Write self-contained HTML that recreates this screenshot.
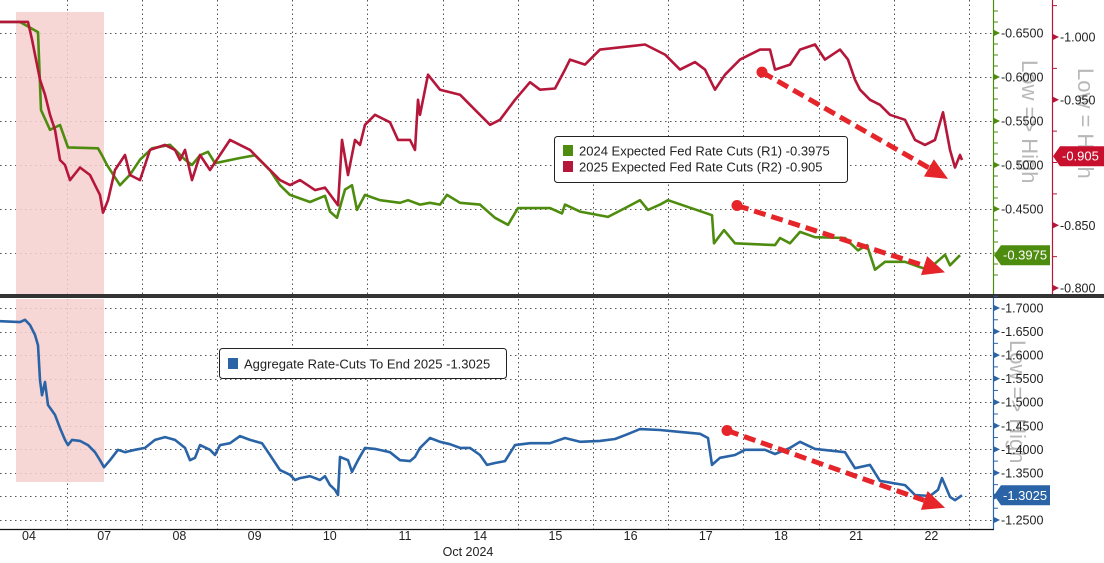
<!DOCTYPE html>
<html><head><meta charset="utf-8">
<style>
html,body{margin:0;padding:0;background:#fff;}
svg{display:block;font-family:"Liberation Sans","DejaVu Sans",sans-serif;}
</style></head>
<body>
<svg id="chart" width="1104" height="563" viewBox="0 0 1104 563" xmlns="http://www.w3.org/2000/svg">
<rect x="0" y="0" width="1104" height="563" fill="#fff"/>
<g id="grid"></g>
<rect x="16" y="12" width="88" height="283" fill="#f6cfcf" opacity="0.85"/>
<rect x="16" y="299" width="88" height="183" fill="#f6cfcf" opacity="0.85"/>
<text transform="translate(1022,60) rotate(90)" font-size="22" fill="#b8b8b8">Low =&gt; High</text>
<text transform="translate(1078,68) rotate(90)" font-size="22" fill="#b8b8b8">Low = High</text>
<text transform="translate(1010,340) rotate(90)" font-size="22" fill="#b8b8b8">Low =&gt; High</text>
<g id="series"></g>
<g id="axes"></g>
<g id="arrows"></g>
<g>
 <rect x="554.5" y="136.5" width="293" height="46" rx="3" fill="#fff" stroke="#222" stroke-width="1"/>
 <rect x="563" y="145" width="10" height="11" fill="#4e8c0f"/>
 <text x="579" y="155.5" font-size="13" fill="#222">2024 Expected Fed Rate Cuts (R1) -0.3975</text>
 <rect x="563" y="161" width="10" height="11" fill="#b5173a"/>
 <text x="579" y="171.5" font-size="13" fill="#222">2025 Expected Fed Rate Cuts (R2) -0.905</text>
</g>
<g>
 <rect x="219.5" y="348.5" width="287" height="30" rx="3" fill="#fff" stroke="#222" stroke-width="1"/>
 <rect x="228" y="358" width="10" height="11" fill="#2a64a6"/>
 <text x="244" y="368.5" font-size="13" fill="#222">Aggregate Rate-Cuts To End 2025 -1.3025</text>
</g>
<text x="468" y="556" font-size="12.5" fill="#222" text-anchor="middle">Oct 2024</text>
</svg>
<script>
// ---- data ----
const dayLabels = ["04","07","08","09","10","11","14","15","16","17","18","21","22"];
const r1Ticks = [-0.65,-0.60,-0.55,-0.50,-0.45];
const r2Ticks = [-1.000,-0.950,-0.850,-0.800];
const aggTicks = [-1.70,-1.65,-1.60,-1.55,-1.50,-1.45,-1.40,-1.35,-1.30,-1.25];
const r1T = [-0.386,-0.120,0.120,0.160,0.279,0.412,0.519,0.918,0.971,1.037,1.210,1.343,1.476,1.636,1.875,2.074,2.168,2.274,2.380,2.473,2.806,3.005,3.205,3.338,3.471,3.737,3.936,4.003,4.096,4.202,4.295,4.362,4.468,4.668,4.934,5.040,5.199,5.332,5.465,5.559,5.731,5.997,6.197,6.370,6.503,6.928,7.088,7.128,7.327,7.699,7.926,8.125,8.231,8.391,8.497,9.082,9.109,9.242,9.388,9.920,9.987,10.120,10.253,10.452,10.851,11.024,11.144,11.250,11.383,11.649,11.848,11.955,12.181,12.247,12.380];
const r1V = [-0.6625,-0.6625,-0.651,-0.5625,-0.540,-0.5455,-0.520,-0.519,-0.511,-0.500,-0.477,-0.489,-0.506,-0.519,-0.523,-0.506,-0.500,-0.511,-0.515,-0.502,-0.508,-0.511,-0.494,-0.477,-0.466,-0.458,-0.465,-0.447,-0.440,-0.472,-0.477,-0.449,-0.466,-0.460,-0.457,-0.460,-0.455,-0.457,-0.455,-0.466,-0.457,-0.455,-0.440,-0.432,-0.451,-0.451,-0.445,-0.455,-0.447,-0.441,-0.451,-0.460,-0.449,-0.455,-0.460,-0.443,-0.411,-0.426,-0.411,-0.409,-0.417,-0.411,-0.424,-0.418,-0.417,-0.403,-0.409,-0.381,-0.390,-0.390,-0.384,-0.381,-0.398,-0.386,-0.3975];
const r2T = [-0.386,-0.013,0.040,0.080,0.146,0.213,0.279,0.346,0.412,0.479,0.545,0.678,0.811,0.878,0.944,0.984,1.051,1.144,1.277,1.343,1.476,1.609,1.809,1.941,2.008,2.074,2.168,2.274,2.407,2.673,2.806,2.939,3.072,3.205,3.338,3.471,3.604,3.803,3.936,4.109,4.162,4.242,4.335,4.402,4.468,4.601,4.801,4.907,5.066,5.133,5.173,5.199,5.306,5.465,5.731,5.931,6.130,6.263,6.463,6.662,6.795,6.995,7.128,7.194,7.394,7.593,8.191,8.457,8.657,8.856,8.989,9.122,9.255,9.455,9.721,9.854,9.920,10.120,10.253,10.452,10.585,10.785,10.891,10.984,11.051,11.184,11.316,11.449,11.649,11.782,11.915,12.048,12.154,12.247,12.314,12.380,12.407];
const r2V = [-1.012,-1.012,-0.998,-0.986,-0.966,-0.954,-0.938,-0.926,-0.902,-0.898,-0.886,-0.896,-0.890,-0.882,-0.874,-0.860,-0.870,-0.894,-0.906,-0.890,-0.886,-0.910,-0.914,-0.910,-0.902,-0.910,-0.886,-0.906,-0.894,-0.918,-0.914,-0.910,-0.902,-0.894,-0.886,-0.882,-0.886,-0.878,-0.880,-0.866,-0.918,-0.890,-0.918,-0.914,-0.930,-0.938,-0.932,-0.918,-0.918,-0.910,-0.950,-0.938,-0.970,-0.958,-0.954,-0.942,-0.930,-0.934,-0.950,-0.964,-0.958,-0.959,-0.974,-0.982,-0.978,-0.990,-0.994,-0.986,-0.974,-0.980,-0.974,-0.958,-0.970,-0.982,-0.990,-0.990,-0.974,-0.978,-0.990,-0.994,-0.982,-0.990,-0.982,-0.966,-0.958,-0.950,-0.946,-0.938,-0.934,-0.918,-0.914,-0.918,-0.940,-0.910,-0.896,-0.906,-0.902];
const aggT = [-0.386,-0.120,-0.053,0.013,0.080,0.120,0.146,0.173,0.213,0.253,0.346,0.412,0.479,0.519,0.572,0.678,0.785,0.878,0.944,0.997,1.077,1.184,1.277,1.410,1.543,1.676,1.809,1.941,2.074,2.141,2.207,2.274,2.407,2.473,2.540,2.673,2.806,2.939,3.098,3.205,3.338,3.471,3.537,3.604,3.737,3.870,3.936,4.003,4.069,4.109,4.136,4.242,4.295,4.375,4.468,4.601,4.801,4.934,5.066,5.133,5.199,5.332,5.465,5.598,5.731,5.864,5.997,6.090,6.197,6.330,6.463,6.662,6.928,7.128,7.327,7.593,7.793,7.926,8.125,8.391,8.657,8.923,9.029,9.082,9.189,9.388,9.521,9.787,9.920,10.120,10.253,10.452,10.851,10.984,11.184,11.316,11.649,11.782,11.981,12.088,12.141,12.247,12.314,12.407];
const aggV = [-1.672,-1.670,-1.675,-1.664,-1.643,-1.621,-1.547,-1.515,-1.543,-1.494,-1.473,-1.445,-1.420,-1.409,-1.420,-1.418,-1.409,-1.394,-1.377,-1.362,-1.377,-1.399,-1.394,-1.399,-1.403,-1.420,-1.426,-1.420,-1.403,-1.377,-1.382,-1.409,-1.399,-1.388,-1.409,-1.413,-1.428,-1.420,-1.413,-1.388,-1.356,-1.346,-1.335,-1.339,-1.343,-1.335,-1.343,-1.324,-1.314,-1.303,-1.384,-1.377,-1.352,-1.377,-1.403,-1.401,-1.394,-1.377,-1.375,-1.384,-1.403,-1.424,-1.416,-1.411,-1.403,-1.403,-1.388,-1.367,-1.371,-1.375,-1.409,-1.413,-1.413,-1.424,-1.416,-1.418,-1.422,-1.430,-1.443,-1.441,-1.437,-1.433,-1.424,-1.367,-1.382,-1.388,-1.399,-1.399,-1.390,-1.403,-1.416,-1.401,-1.394,-1.360,-1.367,-1.333,-1.324,-1.303,-1.301,-1.314,-1.339,-1.299,-1.292,-1.3025];
const r1Last = -0.3975, r2Last = -0.905, aggLast = -1.3025;
// arrows in data coords: [startDay, startValue, endDay, endValue]
const arrowR2 = [9.747, -0.972, 12.221, -0.887];
const arrowR1 = [9.415, -0.454, 12.181, -0.378];
const arrowAgg = [9.282, -1.440, 12.181, -1.276];

// ---- scales ----
const NS = "http://www.w3.org/2000/svg";
const X = d => 29 + d * 75.2;
const yR1 = v => 33 + (v + 0.65) / 0.05 * 44;
const yR2 = v => 37 + (v + 1.0) / 0.2 * 251;
const yAgg = v => 308 + (v + 1.70) / 0.45 * 212;
function mk(tag, attrs, parent){const e=document.createElementNS(NS,tag);for(const k in attrs)e.setAttribute(k,attrs[k]);parent.appendChild(e);return e;}
const grid=document.getElementById('grid'), series=document.getElementById('series'), axes=document.getElementById('axes'), arrows=document.getElementById('arrows');

// grid
for(let i=0;i<dayLabels.length;i++){
  const gx = Math.round(X(i+0.5))+0.5;
  const l1=mk('line',{x1:gx,y1:0,x2:gx,y2:294,stroke:'#555','stroke-width':1,'stroke-dasharray':'1.5,3'},grid);
  
  
  const l2=mk('line',{x1:gx,y1:299,x2:gx,y2:529,stroke:'#555','stroke-width':1,'stroke-dasharray':'1.5,3'},grid);
  
  
  const t=mk('text',{x:X(i),y:540,'font-size':12.5,fill:'#222','text-anchor':'middle'},axes);
  t.textContent=dayLabels[i];
  
  
}
const r1Grid=[...r1Ticks,-0.40];
r1Grid.forEach(v=>{const y=Math.round(yR1(v))+0.5;
  const l=mk('line',{x1:0,y1:y,x2:993,y2:y,stroke:'#555','stroke-width':1,'stroke-dasharray':'1.5,3.5'},grid);
  
  });
aggTicks.forEach(v=>{const y=Math.round(yAgg(v))+0.5;
  const l=mk('line',{x1:0,y1:y,x2:993,y2:y,stroke:'#555','stroke-width':1,'stroke-dasharray':'1.5,3.5'},grid);
  
  });

// series
function pathOf(T,V,ys){return T.map((t,i)=>(i?'L':'M')+X(t).toFixed(1)+','+ys(V[i]).toFixed(1)).join('');}
const pg=mk('path',{d:pathOf(r1T,r1V,yR1),fill:'none',stroke:'#4e8c0f','stroke-width':2.6,'stroke-linejoin':'round'},series);


const pr=mk('path',{d:pathOf(r2T,r2V,yR2),fill:'none',stroke:'#b5173a','stroke-width':2.6,'stroke-linejoin':'round'},series);


const pb=mk('path',{d:pathOf(aggT,aggV,yAgg),fill:'none',stroke:'#2a64a6','stroke-width':2.6,'stroke-linejoin':'round'},series);



// axes frame
const dv=mk('rect',{x:0,y:294,width:1104,height:4,fill:'#333'},axes);


const bx=mk('line',{x1:0,y1:529.5,x2:994,y2:529.5,stroke:'#111','stroke-width':1.2},axes);


const a1=mk('line',{x1:993.5,y1:0,x2:993.5,y2:294,stroke:'#4e8c0f','stroke-width':1.2},axes);


const a2=mk('line',{x1:1052.5,y1:0,x2:1052.5,y2:294,stroke:'#b5173a','stroke-width':1.2},axes);


const a3=mk('line',{x1:993.5,y1:298,x2:993.5,y2:529,stroke:'#2a64a6','stroke-width':1.2},axes);



function ticks(list,ys,ax,col,fmt,name,minorStep,lo,hi){
  for(let v=lo; v<=hi+1e-9; v+=minorStep){const y=ys(v); if(y<2||y>528)continue;
    const m=mk('line',{x1:ax,y1:y,x2:ax+4,y2:y,stroke:col,'stroke-width':1},axes);
    
    }
  list.forEach(v=>{const y=ys(v);
    const p=mk('path',{d:`M${ax},${y-3}L${ax+6},${y}L${ax},${y+3}Z`,fill:col},axes);
    
    
    const t=mk('text',{x:ax+7,y:y+4.5,'font-size':12.5,fill:'#222'},axes);
    t.textContent=fmt(v);
    
    });
}
ticks(r1Ticks,yR1,994,'#4e8c0f',v=>v.toFixed(4),'r1',0.0125,-0.675,-0.375);
ticks(r2Ticks,yR2,1053,'#b5173a',v=>v.toFixed(3),'r2',0.025,-1.025,-0.8);
ticks(aggTicks,yAgg,994,'#2a64a6',v=>v.toFixed(4),'agg',0.025,-1.725,-1.25);

function lastBadge(x,y,w,col,txt,name){
  const p=mk('path',{d:`M${x},${y}L${x+7},${y-10}L${x+w},${y-10}L${x+w},${y+10}L${x+7},${y+10}Z`,fill:col},axes);
  
  
  const t=mk('text',{x:x+9,y:y+4.5,'font-size':13,fill:'#fff'},axes);
  t.textContent=txt;
  
  
}
lastBadge(994,yR1(r1Last),56,'#4e8c0f',r1Last.toFixed(4),'r1-last');
lastBadge(1053,yR2(r2Last),51,'#c8102e',r2Last.toFixed(3),'r2-last');
lastBadge(994,yAgg(aggLast),56,'#2a64a6',aggLast.toFixed(4),'agg-last');

// arrows
function arrow(a,ys,name){
  const x1=X(a[0]),y1=ys(a[1]),x2=X(a[2]),y2=ys(a[3]);
  const dx=x2-x1,dy=y2-y1,L=Math.hypot(dx,dy),ux=dx/L,uy=dy/L;
  const hx=x2-ux*22,hy=y2-uy*22;
  const ln=mk('line',{x1:x1,y1:y1,x2:hx,y2:hy,stroke:'#e5252a','stroke-width':5,'stroke-dasharray':'12,6'},arrows);
  
  
  const c=mk('circle',{cx:x1,cy:y1,r:5.5,fill:'#e5252a'},arrows);
  
  
  const px=-uy,py=ux;
  const h=mk('path',{d:`M${x2},${y2}L${hx+px*10},${hy+py*10}L${hx-px*10},${hy-py*10}Z`,fill:'#e5252a'},arrows);
  
  
}
arrow(arrowR2,yR2,'arrow-2025');
arrow(arrowR1,yR1,'arrow-2024');
arrow(arrowAgg,yAgg,'arrow-aggregate');
</script>
</body></html>
